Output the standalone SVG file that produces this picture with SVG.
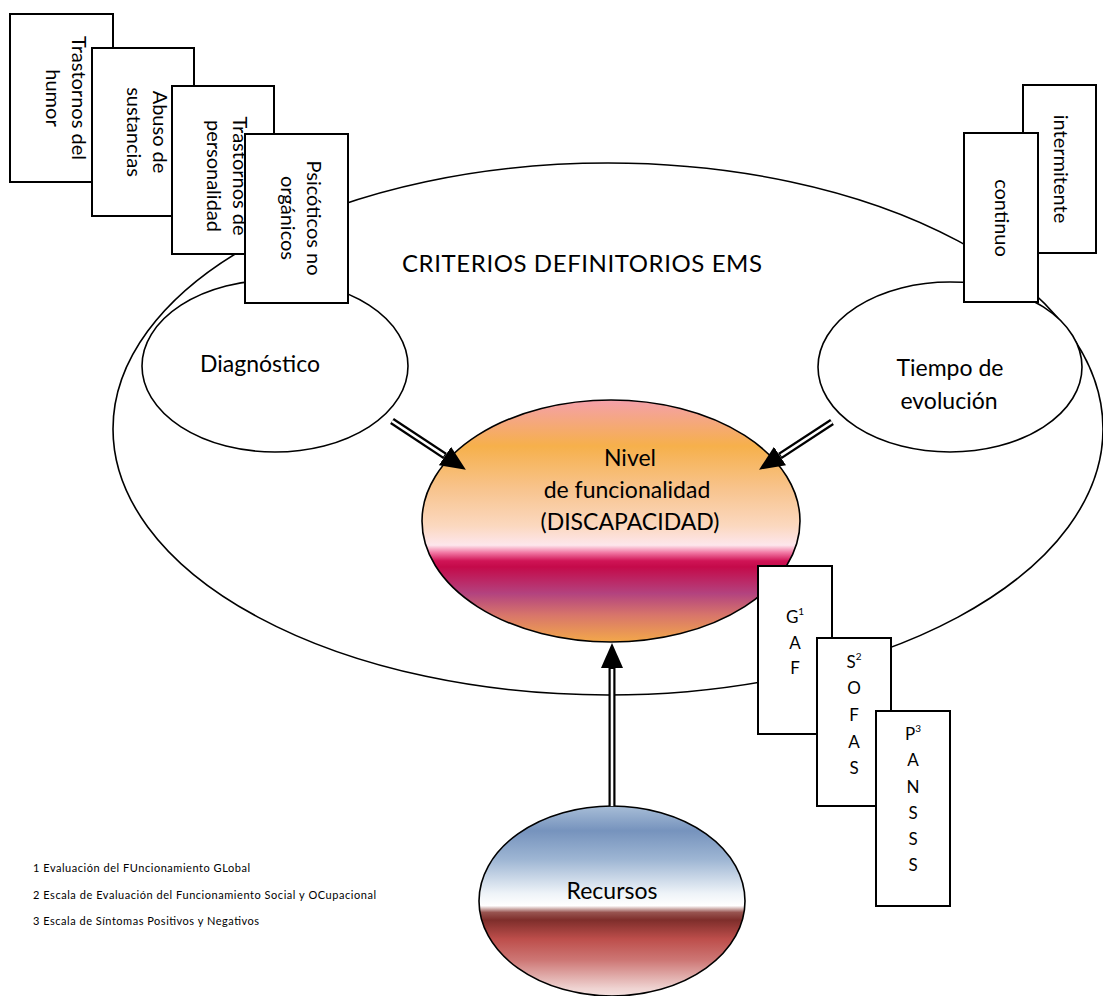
<svg xmlns="http://www.w3.org/2000/svg" width="1103" height="996" viewBox="0 0 1103 996">
  <style>
    text { font-family: Lato, "Liberation Sans", sans-serif; fill: #000; }
    .box { fill: #fff; stroke: #000; stroke-width: 2; }
    .oval { fill: #fff; stroke: #000; stroke-width: 1.6; }
    .frame { fill: none; stroke: #000; stroke-width: 1.6; }
    .side { font-size: 20px; text-anchor: middle; }
    .lbl { font-size: 23px; text-anchor: middle; }
    .ltr { font-size: 17px; text-anchor: middle; }
    .sup { font-size: 10px; }
    .note { font-size: 11px; }
    .shaft { fill: none; stroke: #000; stroke-width: 7; }
    .core { fill: none; stroke: #fff; stroke-width: 2.6; }
  </style>
  <defs>
    <linearGradient id="gradNivel" x1="0" y1="0" x2="0" y2="1">
      <stop offset="0" stop-color="#f4a0aa"/>
      <stop offset="0.19" stop-color="#f6b04b"/>
      <stop offset="0.37" stop-color="#f8c48e"/>
      <stop offset="0.52" stop-color="#fbd8bf"/>
      <stop offset="0.60" stop-color="#fde6ec"/>
      <stop offset="0.63" stop-color="#f27aa5"/>
      <stop offset="0.665" stop-color="#d01456"/>
      <stop offset="0.69" stop-color="#c40a4a"/>
      <stop offset="0.80" stop-color="#b3437f"/>
      <stop offset="0.89" stop-color="#d8766a"/>
      <stop offset="1" stop-color="#f3a84a"/>
    </linearGradient>
    <linearGradient id="gradRecursos" x1="0" y1="0" x2="0" y2="1">
      <stop offset="0" stop-color="#a7bdd7"/>
      <stop offset="0.13" stop-color="#7693bd"/>
      <stop offset="0.28" stop-color="#9db5d3"/>
      <stop offset="0.46" stop-color="#eef3f8"/>
      <stop offset="0.525" stop-color="#ffffff"/>
      <stop offset="0.56" stop-color="#985450"/>
      <stop offset="0.60" stop-color="#7e2e2b"/>
      <stop offset="0.70" stop-color="#bd4e4b"/>
      <stop offset="0.81" stop-color="#cd7674"/>
      <stop offset="0.96" stop-color="#efd3d1"/>
      <stop offset="1" stop-color="#f4e0df"/>
    </linearGradient>
    <marker id="head" markerUnits="userSpaceOnUse" viewBox="0 0 25 22" refX="0" refY="11" markerWidth="25" markerHeight="22" orient="auto">
      <path d="M0,0 L25,11 L0,22 Z" fill="#000"/>
    </marker>
  </defs>

  <!-- overall criteria frame -->
  <g id="criterios">
    <ellipse class="frame" cx="608" cy="429" rx="495" ry="266"/>
    <text x="582" y="272" font-size="24" text-anchor="middle" textLength="360">CRITERIOS DEFINITORIOS EMS</text>
  </g>

  <g id="diagnostico">
    <ellipse class="oval" cx="275" cy="366" rx="133" ry="86"/>
    <text class="lbl" x="260" y="372">Diagnóstico</text>
  </g>

  <g id="tiempo">
    <ellipse class="oval" cx="950" cy="367" rx="132" ry="85"/>
    <text class="lbl" x="950" y="376">Tiempo de</text>
    <text class="lbl" x="949" y="409">evolución</text>
  </g>

  <g id="nivel">
    <ellipse cx="611" cy="521" rx="189" ry="121" fill="url(#gradNivel)" stroke="#000" stroke-width="1.6"/>
    <text class="lbl" x="630" y="466">Nivel</text>
    <text class="lbl" x="627" y="498">de funcionalidad</text>
    <text class="lbl" x="630" y="530">(DISCAPACIDAD)</text>
  </g>

  <g id="recursos">
    <ellipse cx="612" cy="901" rx="133" ry="95" fill="url(#gradRecursos)" stroke="#000" stroke-width="1.6"/>
    <text class="lbl" x="612" y="899">Recursos</text>
  </g>

  <!-- double-line arrows -->
  <g id="connectors">
    <path class="shaft" d="M392,421 L445,456" marker-end="url(#head)"/>
    <path class="core" d="M392,421 L444,455.3"/>
    <path class="shaft" d="M832,422 L780,456" marker-end="url(#head)"/>
    <path class="core" d="M832,422 L781,455.3"/>
    <path class="shaft" d="M612,806 L612,668" marker-end="url(#head)"/>
    <path class="core" d="M612,806 L612,669"/>
  </g>

  <!-- diagnostic categories -->
  <g id="humor">
    <rect class="box" x="10" y="14" width="103" height="168"/>
    <text class="side" transform="translate(61.5,98) rotate(90)"><tspan x="0" y="-10">Trastornos del</tspan><tspan x="0" y="16">humor</tspan></text>
  </g>
  <g id="sustancias">
    <rect class="box" x="92" y="48" width="102" height="168"/>
    <text class="side" transform="translate(143,132) rotate(90)"><tspan x="0" y="-10">Abuso de</tspan><tspan x="0" y="16">sustancias</tspan></text>
  </g>
  <g id="personalidad">
    <rect class="box" x="172" y="86" width="102" height="168"/>
    <text class="side" transform="translate(223,176) rotate(90)"><tspan x="0" y="-10">Trastornos de</tspan><tspan x="0" y="16">personalidad</tspan></text>
  </g>
  <g id="psicoticos">
    <rect class="box" x="245" y="134" width="103" height="169"/>
    <text class="side" transform="translate(296.5,218) rotate(90)"><tspan x="0" y="-10">Psicóticos no</tspan><tspan x="0" y="16">orgánicos</tspan></text>
  </g>

  <!-- course of illness -->
  <g id="intermitente">
    <rect class="box" x="1023" y="85" width="73" height="168"/>
    <text class="side" transform="translate(1059.5,169) rotate(90)" y="6">intermitente</text>
  </g>
  <g id="continuo">
    <rect class="box" x="964" y="133" width="74" height="169"/>
    <text class="side" transform="translate(1001,218) rotate(90)" y="6">continuo</text>
  </g>

  <!-- assessment scales -->
  <g id="gaf">
    <rect class="box" x="758" y="566" width="74" height="168"/>
    <text class="ltr" x="795" y="623">G<tspan class="sup" dy="-8">1</tspan></text>
    <text class="ltr" x="795" y="649">A</text>
    <text class="ltr" x="795" y="674">F</text>
  </g>
  <g id="sofas">
    <rect class="box" x="817" y="638" width="74" height="168"/>
    <text class="ltr" x="854" y="668">S<tspan class="sup" dy="-8">2</tspan></text>
    <text class="ltr" x="854" y="694">O</text>
    <text class="ltr" x="854" y="721">F</text>
    <text class="ltr" x="854" y="748">A</text>
    <text class="ltr" x="854" y="774">S</text>
  </g>
  <g id="panss">
    <rect class="box" x="876" y="711" width="74" height="195"/>
    <text class="ltr" x="913" y="740">P<tspan class="sup" dy="-8">3</tspan></text>
    <text class="ltr" x="913" y="766">A</text>
    <text class="ltr" x="913" y="793">N</text>
    <text class="ltr" x="913" y="819">S</text>
    <text class="ltr" x="913" y="845">S</text>
    <text class="ltr" x="913" y="871">S</text>
  </g>

  <!-- footnotes -->
  <g id="notas">
    <text class="note" x="33" y="872" textLength="217">1 Evaluación del FUncionamiento GLobal</text>
    <text class="note" x="33" y="899" textLength="343">2 Escala de Evaluación del Funcionamiento Social y OCupacional</text>
    <text class="note" x="33" y="925" textLength="226">3 Escala de Síntomas Positivos y Negativos</text>
  </g>
</svg>
